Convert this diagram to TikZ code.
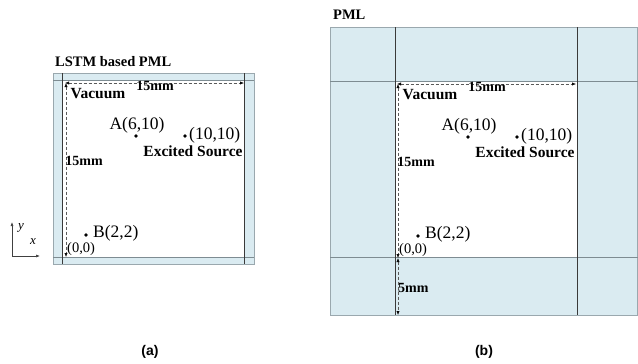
\documentclass[tikz,border=0pt]{standalone}
\usepackage{fontspec}
\setmainfont{Liberation Serif}
\newfontfamily\capfont{Liberation Sans}
\usetikzlibrary{arrows.meta}
\definecolor{pmlblue}{HTML}{DAEBF1}
\definecolor{edgegray}{HTML}{9AA8AE}
\definecolor{hlinegray}{HTML}{7E8C92}
\definecolor{vlinedark}{HTML}{3A3A3A}
\tikzset{
  lblbold/.style={font=\fontsize{15.5}{17}\selectfont\bfseries, inner sep=0pt},
  lbltitle/.style={font=\fontsize{14.5}{16}\selectfont\bfseries, inner sep=0pt},
  lbldim/.style={font=\fontsize{14}{16}\selectfont\bfseries, inner sep=0pt},
  lblplain/.style={font=\fontsize{17.5}{19}\selectfont, inner sep=0pt},
  lblsmall/.style={font=\fontsize{14.5}{16}\selectfont, inner sep=0pt},
  lblaxis/.style={font=\fontsize{13}{15}\selectfont\itshape, inner sep=0pt},
  dimline/.style={dash pattern=on 3pt off 2pt, black!65, line width=0.6pt,
    {Latex[length=4pt,width=3.2pt,black]}-{Latex[length=4pt,width=3.2pt,black]}},
  dotmark/.style={circle, fill=black, inner sep=0pt, minimum size=3.8pt},
  capt/.style={font=\capfont\fontsize{14}{16}\selectfont\bfseries, inner sep=0pt},
  outerbox/.style={draw=edgegray, fill=pmlblue, line width=0.8pt},
  hdiv/.style={draw=hlinegray, line width=0.8pt},
  vdiv/.style={draw=vlinedark, line width=0.8pt},
  axisarrow/.style={black!75, line width=0.6pt, -{Latex[length=4pt,width=3pt]}},
}
\begin{document}
\begin{tikzpicture}[x=1pt,y=-1pt]
\useasboundingbox (0,0) rectangle (638,364);

% ---------- panel (a) frame ----------
\path[outerbox] (53,73) rectangle (254,264);
\fill[white] (62,80) rectangle (244,257);
\draw[hdiv] (53,80) -- (254,80);
\draw[hdiv] (53,257) -- (254,257);
\draw[vdiv] (62,73) -- (62,264);
\draw[vdiv] (244,73) -- (244,264);
\node[lbltitle, anchor=west] (titleA) at (55,62) {LSTM based PML};

% ---------- panel (b) frame ----------
\path[outerbox] (330,27) rectangle (637.5,315);
\fill[white] (395,81) rectangle (577,257);
\draw[hdiv] (330,81) -- (637.5,81);
\draw[hdiv] (330,257) -- (637.5,257);
\draw[vdiv] (395,27) -- (395,315);
\draw[vdiv] (577,27) -- (577,315);
\node[lbltitle, anchor=west] (titleB) at (333,15) {PML};

% ---------- shared interior content ----------
\foreach \p/\dx/\dy in {a/0/0, b/332/1} {
  \begin{scope}[shift={(\dx,\dy)}]
    \coordinate (\p c0) at (65,83);
    \coordinate (\p cx) at (244,83);
    \coordinate (\p v0) at (66,83);
    \coordinate (\p vy) at (66,257);
    \draw[dimline] (\p c0) -- (\p cx);
    \draw[dimline] (\p v0) -- (\p vy);
    \node[lblbold] (\p vac) at (98,94) {Vacuum};
    \node[lbldim] (\p wtop) at (155,86) {15mm};
    \node[lbldim] (\p wleft) at (84,161) {15mm};
    \node[dotmark] (\p ptA) at (136,136) {};
    \node[lblplain] (\p labA) at (137,125) {A(6,10)};
    \node[dotmark] (\p ptS) at (185,136) {};
    \node[lblplain, anchor=west] (\p labS) at (189,135) {(10,10)};
    \node[lblbold] (\p exc) at (193,151) {Excited Source};
    \node[dotmark] (\p ptB) at (86,235) {};
    \node[lblplain, anchor=west] (\p labB) at (93,233) {B(2,2)};
    \node[lblsmall, anchor=west] (\p orig) at (67,249) {(0,0)};
  \end{scope}
}

% ---------- 5mm dimension in (b) ----------
\coordinate (b5top) at (398,258);
\coordinate (b5bot) at (398,315);
\draw[dimline] (b5top) -- (b5bot);
\node[lbldim, anchor=west] (b5mm) at (398,288) {5mm};

% ---------- axes ----------
\coordinate (ax0) at (12,256);
\coordinate (axy) at (12,222);
\coordinate (axx) at (40,256);
\draw[axisarrow] (ax0) -- (axy);
\draw[axisarrow] (ax0) -- (axx);
\node[lblaxis] (laby) at (21,228) {y};
\node[lblaxis] (labx) at (33,242) {x};

% ---------- captions ----------
\node[capt] (capa) at (150,352) {(a)};
\node[capt] (capb) at (484,352) {(b)};
\end{tikzpicture}
\end{document}
